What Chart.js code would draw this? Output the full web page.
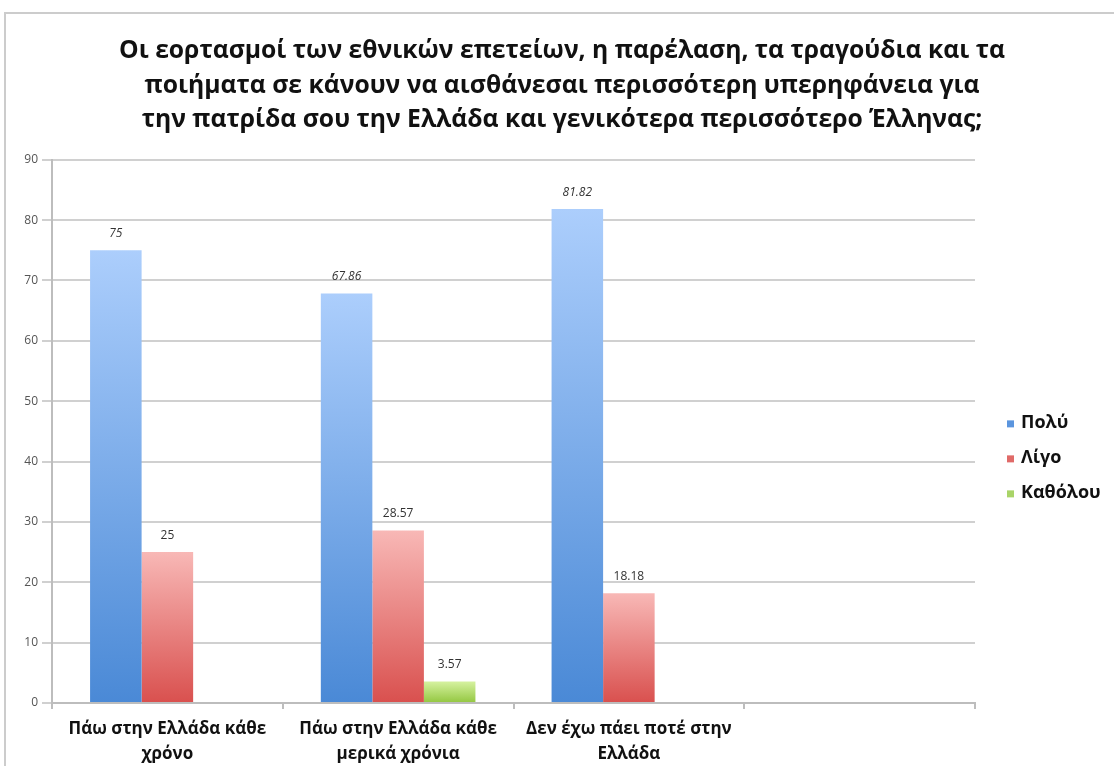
<!DOCTYPE html>
<html lang="el">
<head>
<meta charset="utf-8">
<title>Εθνικές επέτειοι</title>
<script src="https://cdn.jsdelivr.net/npm/chart.js@4/dist/chart.umd.min.js"></script>
<style>
  html, body { margin: 0; padding: 0; background: #fff; }
  #wrap { position: relative; width: 1114px; height: 766px; }
</style>
</head>
<body>
<div id="wrap"><canvas id="chart" width="1114" height="766"></canvas></div>
<script>
// δεδομένα
const titleLines = [
  'Οι εορτασμοί των εθνικών επετείων, η παρέλαση, τα τραγούδια και τα',
  'ποιήματα σε κάνουν να αισθάνεσαι περισσότερη υπερηφάνεια για',
  'την πατρίδα σου την Ελλάδα και γενικότερα περισσότερο Έλληνας;'
];
const categories = [
  ['Πάω στην Ελλάδα κάθε', 'χρόνο'],
  ['Πάω στην Ελλάδα κάθε', 'μερικά χρόνια'],
  ['Δεν έχω πάει ποτέ στην', 'Ελλάδα'],
  ''
];
const seriesNames = ['Πολύ', 'Λίγο', 'Καθόλου'];
const poly = [75, 67.86, 81.82, null];
const ligo = [25, 28.57, 18.18, null];
const katholou = [null, 3.57, null, null];
const yTicks = [0, 10, 20, 30, 40, 50, 60, 70, 80, 90];

const FONT = '"Open Sans", "Liberation Sans", Arial, sans-serif';

// χρώματα: [πάνω, κάτω, υπόμνημα]
const palette = [
  ['#accefc', '#4a89d6', '#5b95de'],
  ['#f8b8b6', '#d9504e', '#e06a68'],
  ['#d6f2a0', '#92c63f', '#a9d468']
];

function barGradient(i) {
  return function (ctx) {
    const c = palette[i];
    if (ctx.type !== 'data') return c[2];
    const chart = ctx.chart;
    if (!chart.chartArea || ctx.raw == null) return c[2];
    const y = chart.scales.y;
    const top = y.getPixelForValue(ctx.raw);
    const bottom = y.getPixelForValue(0);
    if (!isFinite(top) || top === bottom) return c[2];
    const g = chart.ctx.createLinearGradient(0, top, 0, bottom);
    g.addColorStop(0, c[0]);
    g.addColorStop(1, c[1]);
    return g;
  };
}

// ο τίτλος κεντράρεται σε όλο το πλάτος, όχι μόνο στην περιοχή του γραφήματος
const wideTitle = {
  id: 'wideTitle',
  afterLayout(chart) {
    if (chart.titleBlock) {
      chart.titleBlock.left = 10;
      chart.titleBlock.right = chart.width;
    }
  }
};

// ετικέτες τιμών πάνω από τις μπάρες
const valueLabels = {
  id: 'valueLabels',
  afterDatasetsDraw(chart) {
    const ctx = chart.ctx;
    ctx.save();
    ctx.textAlign = 'center';
    ctx.textBaseline = 'middle';
    ctx.fillStyle = '#333';
    chart.data.datasets.forEach((ds, di) => {
      const meta = chart.getDatasetMeta(di);
      meta.data.forEach((bar, i) => {
        const v = ds.data[i];
        if (v == null) return;
        ctx.font = (di === 0 ? 'italic ' : '') + '12px ' + FONT;
        ctx.fillText(String(v), bar.x, bar.y - 17);
      });
    });
    ctx.restore();
  }
};

// υπόμνημα στα δεξιά
const sideLegend = {
  id: 'sideLegend',
  afterDraw(chart) {
    const ctx = chart.ctx;
    const area = chart.chartArea;
    const x = area.right + 32;
    const mid = (area.top + area.bottom) / 2 + 27;
    ctx.save();
    ctx.textBaseline = 'middle';
    ctx.textAlign = 'left';
    ctx.font = 'bold 18px ' + FONT;
    chart.data.datasets.forEach((ds, i) => {
      const y = mid + (i - 1) * 35;
      ctx.fillStyle = palette[i][2];
      ctx.fillRect(x, y - 3, 7, 7);
      ctx.fillStyle = '#111';
      ctx.fillText(ds.label, x + 14, y);
    });
    ctx.restore();
  }
};

// πλαίσιο γύρω από την εικόνα
const frame = {
  id: 'frame',
  beforeDraw(chart) {
    const ctx = chart.ctx;
    ctx.save();
    ctx.strokeStyle = '#cccccc';
    ctx.lineWidth = 2;
    ctx.beginPath();
    ctx.moveTo(5, 800);
    ctx.lineTo(5, 13);
    ctx.lineTo(1120, 13);
    ctx.stroke();
    ctx.restore();
  }
};

const datasets = [poly, ligo, katholou].map((d, i) => ({
  label: seriesNames[i],
  data: d,
  backgroundColor: barGradient(i),
  borderWidth: 0,
  categoryPercentage: 0.67,
  barPercentage: 1.0
}));

new Chart(document.getElementById('chart'), {
  type: 'bar',
  data: { labels: categories, datasets: datasets },
  options: {
    responsive: false,
    animation: false,
    layout: { padding: { left: 6, right: 139, top: 0, bottom: 0 } },
    plugins: {
      title: {
        display: true,
        text: titleLines,
        color: '#111',
        font: { family: FONT, size: 24.7, weight: 'bold', lineHeight: 1.4 },
        padding: { top: 34, bottom: 22 }
      },
      legend: { display: false },
      tooltip: { enabled: false }
    },
    scales: {
      x: {
        grid: { drawOnChartArea: false, offset: true, color: '#bdbdbd', tickLength: 6, lineWidth: 2 },
        border: { color: '#bdbdbd', width: 2 },
        ticks: {
          color: '#111',
          font: { family: FONT, size: 17, weight: 'bold', lineHeight: 1.5 },
          maxRotation: 0,
          autoSkip: false,
          padding: 7
        },
        afterFit(scale) { scale.height = 63; }
      },
      y: {
        min: 0,
        max: 90,
        afterBuildTicks(scale) { scale.ticks = yTicks.map(v => ({ value: v })); },
        grid: { color: '#d0d0d0', lineWidth: 2, tickLength: 10 },
        border: { color: '#bdbdbd', width: 2 },
        ticks: {
          color: '#555',
          font: { family: FONT, size: 12 },
          padding: 4
        },
        afterFit(scale) { scale.width = 46; }
      }
    }
  },
  plugins: [frame, wideTitle, valueLabels, sideLegend]
});
</script>
</body>
</html>
